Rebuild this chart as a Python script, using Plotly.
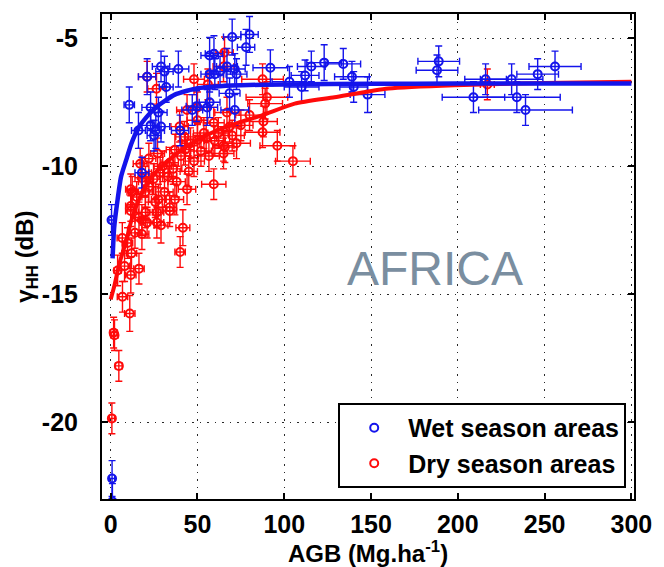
import plotly.graph_objects as go

# Wet season plots: AGB (Mg/ha), backscatter gamma_HH (dB), and their error half-widths
wet_agb = [0.5, 0.8, 1.0, 10.7, 21, 29, 31, 39, 32, 16, 23, 26, 29, 25, 27.5, 23, 18, 40,
           47, 49.5, 55.6, 57, 57, 59.5, 57, 60, 70, 80, 78, 67, 71.5, 72.5, 68.5, 71.5, 63,
           92, 103, 110, 112, 115.6, 123, 134, 139, 140, 148, 189, 188, 209, 216, 231, 234,
           239, 246, 256]
wet_gamma = [-12.1, -22.2, -23.1, -7.6, -6.5, -6.1, -6.3, -6.2, -6.9, -8.6, -8.4, -8.6, -8.45,
             -8.8, -7.9, -7.7, -10.25, -8.6, -7.8, -7.65, -7.7, -7.5, -5.67, -5.6, -6.4, -6.4,
             -4.95, -4.85, -5.35, -6.1, -6.2, -6.4, -7.15, -7.8, -6.3, -6.15, -6.7, -6.9, -6.45,
             -6.1, -5.95, -6.0, -6.5, -6.9, -7.2, -5.9, -6.25, -7.3, -6.6, -6.6, -7.3, -7.8,
             -6.4, -6.1]
wet_agb_err = [1.5, 1.5, 1.5, 3, 5, 5, 5, 6, 4, 4, 5, 5, 5, 4, 5, 5, 4, 5,
               6, 6, 6, 6, 5, 5, 5, 5, 5, 5, 5, 6, 6, 6, 6, 8, 6,
               10, 10, 10, 8, 8, 10, 10, 10, 8, 10, 12, 12, 18, 12, 18, 25,
               27, 12, 15]
wet_gamma_err = [0.6, 0.7, 0.7, 0.7, 0.7, 0.6, 0.6, 0.7, 0.6, 0.7, 0.6, 0.7, 0.6,
                 0.6, 0.6, 0.6, 0.6, 0.6, 0.6, 0.6, 0.7, 0.6, 0.7, 0.7, 0.7, 0.6,
                 0.7, 0.7, 0.7, 0.7, 0.6, 0.6, 0.6, 0.6, 0.6, 0.7, 0.6, 0.6, 0.6,
                 0.6, 0.7, 0.6, 0.6, 0.6, 0.7, 0.6, 0.6, 0.6, 0.6, 0.6, 0.6, 0.6,
                 0.6, 0.6]

# Dry season plots
dry_agb = [0.7, 1.7, 2.2, 4.7, 6.8, 11, 11.6, 4, 16.3, 12, 40, 6.7, 9.7, 18, 29, 41.6,
           26.6, 21, 16.3, 20, 34, 11.6, 11.6, 11.6, 18, 22, 24.7, 28.5, 31, 37, 25.7,
           34, 40.5, 43, 37, 46, 50, 53.7, 56.6, 59.4, 65, 65, 42.5, 39.7, 50, 59.4,
           68.5, 67, 105, 96, 87.5, 88, 89, 90, 87.5, 72.5, 65.8, 21, 26.4, 65.6, 65,
           44, 50, 17, 20, 12.4, 27.5, 34, 26.6, 18, 217, 48, 56,
           30, 33, 36, 22, 27, 45, 48, 52, 55, 60, 62, 70, 75, 80, 14, 8, 15, 20, 38, 44]
dry_gamma = [-19.85, -16.5, -16.6, -17.8, -15.1, -15.75, -14.25, -14.07, -14.0, -13.4,
             -13.35, -12.8, -13.0, -12.65, -12.3, -12.4, -12.2, -12.2, -12.0, -11.8, -11.75,
             -11.75, -10.9, -11.55, -10.45, -10.8, -10.5, -10.25, -11.0, -11.3, -11.4, -9.86,
             -9.6, -9.35, -9.35, -9.1, -8.97, -8.7, -9.6, -10.7, -9.2, -9.5, -8.85, -8.45,
             -8.2, -8.3, -8.45, -7.9, -9.8, -9.2, -8.67, -8.25, -7.55, -7.3, -6.6, -9.1,
             -9.25, -6.5, -6.97, -5.55, -6.1, -7.8, -7.7, -9.9, -10.6, -11.0, -11.3, -11.6,
             -11.8, -12.1, -6.8, -6.6, -6.8,
             -10.0, -10.4, -10.1, -9.7, -9.5, -10.2, -9.8, -9.4, -8.9, -9.0, -8.7, -8.8,
             -8.4, -8.0, -12.6, -13.9, -11.2, -11.0, -10.6, -10.9]
dry_agb_err = [1.5, 2, 2, 2, 3, 3, 3, 2, 3, 3, 3, 3, 3, 4, 4, 4,
               4, 4, 4, 4, 4, 3, 3, 3, 4, 4, 4, 5, 5, 5, 4,
               5, 5, 5, 5, 5, 6, 6, 6, 7, 6, 6, 5, 5, 6, 6,
               7, 7, 10, 10, 10, 8, 10, 12, 12, 8, 7, 5, 5, 5, 6,
               6, 6, 4, 4, 3, 4, 4, 4, 4, 4, 6, 6,
               5, 5, 5, 4, 4, 5, 6, 6, 6, 6, 6, 7, 7, 8, 3, 3, 3, 4, 5, 5]
dry_gamma_err = [0.6, 0.6, 0.6, 0.6, 0.6, 0.7, 0.7, 0.6, 0.6, 0.6, 0.6, 0.6, 0.6, 0.6,
                 0.7, 0.7, 0.6, 0.6, 0.6, 0.6, 0.6, 0.6, 0.6, 0.6, 0.6, 0.6, 0.6, 0.6,
                 0.6, 0.6, 0.6, 0.6, 0.6, 0.6, 0.6, 0.6, 0.6, 0.6, 0.6, 0.6, 0.6, 0.6,
                 0.6, 0.6, 0.6, 0.6, 0.6, 0.6, 0.6, 0.6, 0.6, 0.6, 0.6, 0.6, 0.6, 0.6,
                 0.6, 0.6, 0.6, 0.6, 0.6, 0.6, 0.6, 0.6, 0.6, 0.6, 0.6, 0.6, 0.6, 0.6,
                 0.6, 0.6, 0.6,
                 0.6, 0.6, 0.6, 0.6, 0.6, 0.6, 0.6, 0.6, 0.6, 0.6, 0.6, 0.6, 0.6, 0.6,
                 0.6, 0.6, 0.6, 0.6, 0.6, 0.6]

# Fitted saturation curves (sampled)
wet_fit_agb = [1.1, 2, 4, 6, 9, 12, 16, 21, 26, 31, 37, 44, 50, 60, 75, 100, 150, 200, 300]
wet_fit_gamma = [-13.6, -12.4, -11.3, -10.4, -9.74, -9.1, -8.5, -8.05, -7.7, -7.45, -7.2,
                 -7.05, -6.95, -6.88, -6.83, -6.8, -6.78, -6.77, -6.77]
dry_fit_agb = [0, 2.2, 5, 8.8, 12, 16.3, 20, 25.7, 32, 38.8, 50, 65, 87.5, 106, 129, 160,
               198, 250, 300]
dry_fit_gamma = [-15.2, -14.65, -13.8, -12.96, -12.1, -11.3, -10.8, -10.25, -9.85, -9.47,
                 -8.97, -8.5, -8.0, -7.55, -7.3, -6.96, -6.83, -6.75, -6.7]

x_ticks = [0, 50, 100, 150, 200, 250, 300]
y_ticks = [-5, -10, -15, -20]

BLUE = "rgb(20,20,235)"
RED = "rgb(255,10,10)"
FONT = "Liberation Sans, Arial, sans-serif"

fig = go.Figure()


def points(x, y, ex, ey, color, name, rank):
    return go.Scatter(
        x=x, y=y, mode="markers", name=name, legendrank=rank, legendgroup=name,
        marker=dict(symbol="circle-open", size=8, color=color, line=dict(width=2, color=color)),
        error_x=dict(type="data", array=ex, color=color, thickness=1.4, width=3.5),
        error_y=dict(type="data", array=ey, color=color, thickness=1.4, width=3.5),
    )


fig.add_trace(points(dry_agb, dry_gamma, dry_agb_err, dry_gamma_err, RED,
                     "<b>Dry season areas</b>", 2))
fig.add_trace(points(wet_agb, wet_gamma, wet_agb_err, wet_gamma_err, BLUE,
                     "<b>Wet season areas</b>", 1))

fig.add_trace(go.Scatter(x=dry_fit_agb, y=dry_fit_gamma, mode="lines", showlegend=False,
                         line=dict(color=RED, width=4, shape="spline", smoothing=0.6)))
fig.add_trace(go.Scatter(x=wet_fit_agb, y=wet_fit_gamma, mode="lines", showlegend=False,
                         line=dict(color=BLUE, width=4.5, shape="spline", smoothing=0.6)))

fig.add_annotation(x=187, y=-14.0, xref="x", yref="y", text="AFRICA", showarrow=False,
                   font=dict(family=FONT, size=48, color="rgb(122,142,160)"))

axis_common = dict(
    showline=True, linecolor="black", linewidth=2, mirror="ticks",
    ticks="inside", ticklen=6, tickwidth=1.5, tickcolor="black",
    showgrid=True, gridcolor="rgb(40,40,40)", gridwidth=1.3, griddash="1.5px,6px",
    zeroline=False,
    tickfont=dict(family=FONT, size=25, color="black"),
)

fig.update_xaxes(
    range=[-5, 301.5], tickvals=x_ticks, ticktext=[f"<b>{v}</b>" for v in x_ticks],
    ticklabelstandoff=2,
    title=dict(text="<b>AGB (Mg.ha<sup>-1</sup>)</b>", font=dict(family=FONT, size=24, color="black"),
               standoff=0),
    **axis_common,
)
fig.update_yaxes(
    range=[-23, -4.05], tickvals=y_ticks, ticktext=[f"<b>{v}</b>" for v in y_ticks],
    ticklabelstandoff=17,
    title=dict(text="<b>γ<sub>HH</sub> (dB)</b>", font=dict(family=FONT, size=24, color="black"),
               standoff=0),
    **axis_common,
)

fig.update_layout(
    width=664, height=567,
    margin=dict(l=102, r=19, t=13, b=65),
    paper_bgcolor="white", plot_bgcolor="white",
    showlegend=True,
    legend=dict(
        x=0.444, y=0.198, xanchor="left", yanchor="top",
        traceorder="normal", tracegroupgap=15,
        bgcolor="white", bordercolor="black", borderwidth=2,
        font=dict(family=FONT, size=25, color="black"),
        itemwidth=58,
    ),
)

fig.write_html("out.html")
